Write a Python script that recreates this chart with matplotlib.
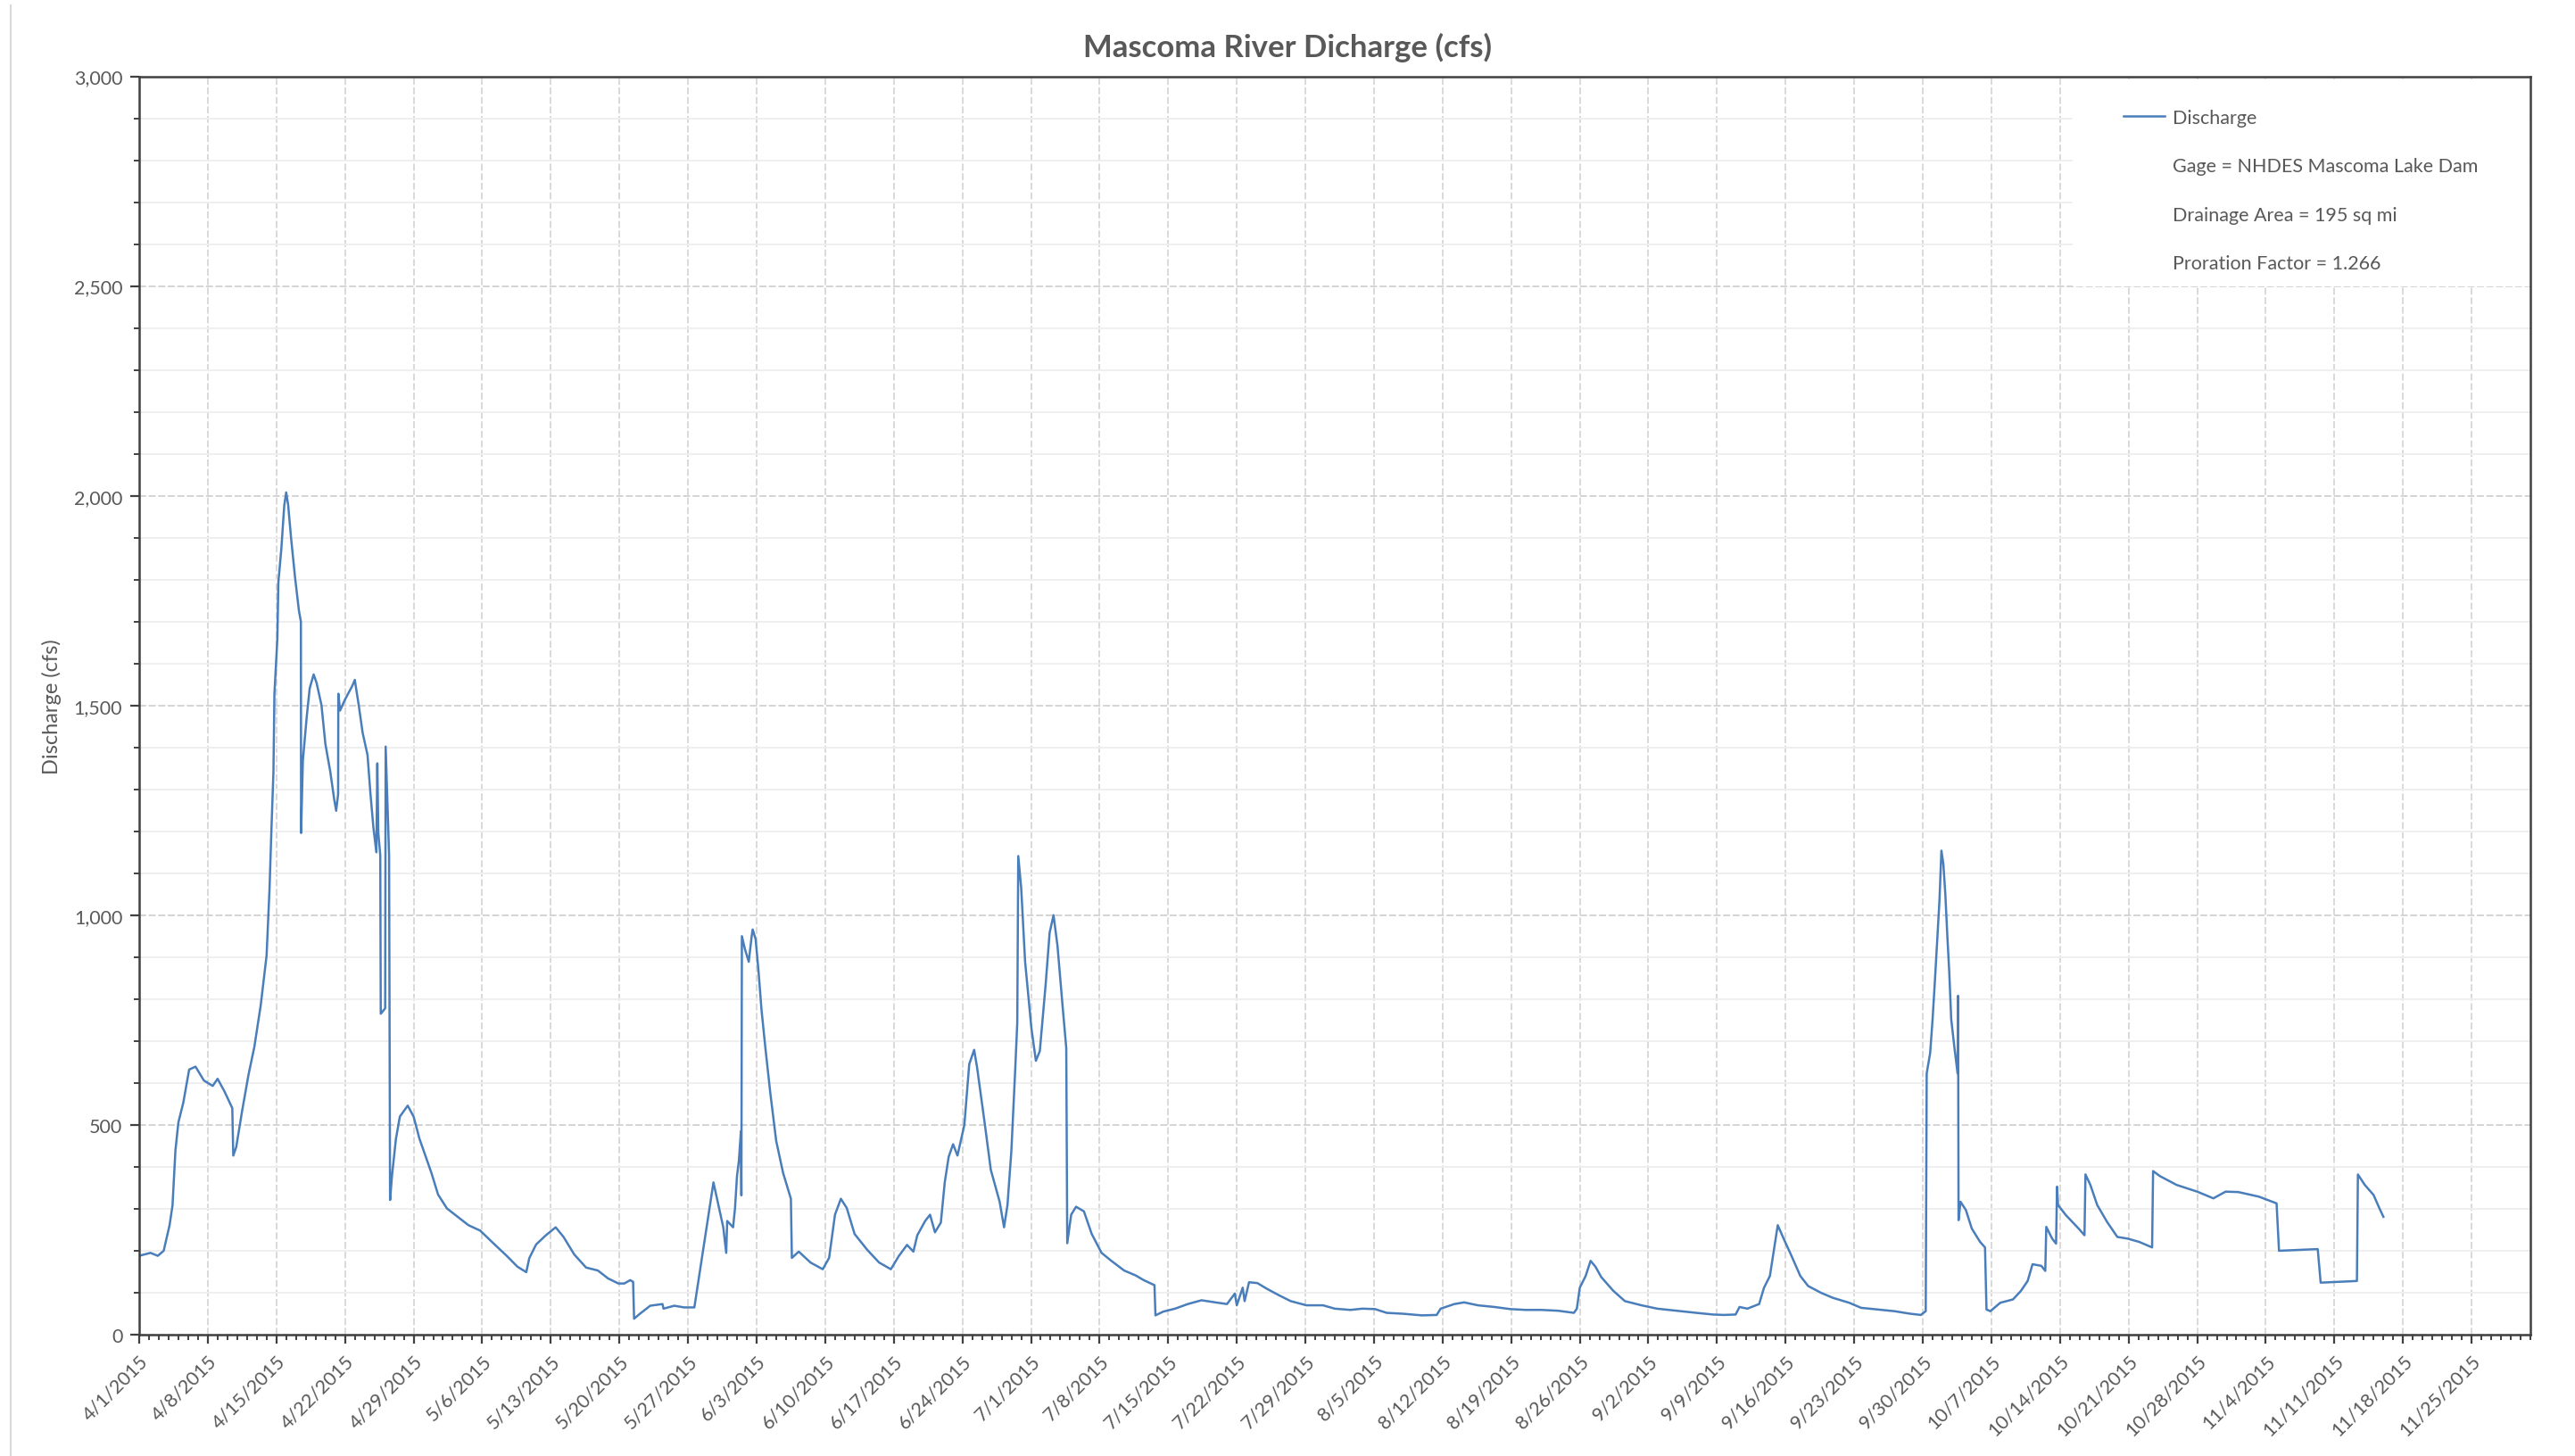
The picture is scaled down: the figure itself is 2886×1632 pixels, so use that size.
import numpy as np
import pandas as pd
import matplotlib
matplotlib.use("Agg")
import matplotlib.pyplot as plt
import matplotlib.dates as mdates
from matplotlib.lines import Line2D
from matplotlib.patches import Rectangle
from matplotlib.ticker import MultipleLocator, FixedLocator, FuncFormatter

plt.rcParams['font.family'] = ['Lato', 'DejaVu Sans']

# discharge readings: days after 4/1/2015 and cfs
spring_days = [0, 1.15, 1.9, 2.5, 3.1, 3.4, 3.7, 4.0, 4.5, 5.1, 5.75, 6.6, 7.5, 8.0, 8.7,
               9.5, 9.6, 9.9, 10.5, 11.15, 11.75, 12.4, 13.0, 13.3, 13.5, 13.7, 13.8, 14.1,
               14.2, 14.5, 14.8, 15.0, 15.2, 15.5, 15.9, 16.3, 16.5, 16.52, 16.7, 17.1, 17.4,
               17.8, 18.1, 18.6, 19.0, 19.5, 19.9, 20.1, 20.3, 20.32, 20.5, 21.0, 21.75, 22.0,
               22.4, 22.8, 23.3, 23.6, 23.9, 24.2, 24.3, 24.4, 24.6, 24.65, 25.1, 25.15, 25.3,
               25.5, 25.6, 25.8, 26.2, 26.6, 27.4, 28.0, 28.6, 29.2, 29.8, 30.5, 31.4, 32.5,
               33.6, 34.8, 36.0, 37.5, 38.6, 39.5, 39.8]
spring_cfs = [188, 195, 188, 200, 261, 308, 440, 506, 553, 632, 639, 606, 593, 610, 580,
              540, 427, 447, 533, 619, 686, 785, 904, 1063, 1209, 1342, 1528, 1660,
              1793, 1872, 1976, 2008, 1978, 1899, 1806, 1726, 1700, 1196, 1368, 1474, 1541,
              1574, 1554, 1501, 1408, 1342, 1276, 1249, 1289, 1528, 1488, 1514, 1547, 1561,
              1501, 1435, 1382, 1289, 1209, 1150, 1362, 1196, 1143, 765, 778, 1402, 1289,
              1143, 321, 380, 467, 520, 546, 520, 467, 427, 387, 334, 301, 281,
              261, 248, 221, 188, 162, 149, 182]

early_summer_days = [40.5, 41.5, 42.5, 43.3, 44.4, 45.6, 46.8, 47.85, 48.9, 49.5, 50.1, 50.4,
                     50.5, 51.1, 52.15, 53.4, 53.5, 54.6, 55.6, 56.65, 58.6, 59.1, 59.6, 59.9,
                     60.0, 60.6, 60.8, 61.0, 61.2, 61.4, 61.45, 61.5, 61.8, 62.2, 62.5, 62.6,
                     62.9, 63.2, 63.5, 63.9, 64.4, 65.0, 65.7, 66.3, 66.5, 66.6, 67.3, 68.5,
                     69.75, 70.4, 71.0, 71.6, 72.2, 73.0, 74.3, 75.5, 76.7, 77.5, 78.35, 79.0,
                     79.4, 80.2, 80.7, 81.2, 81.8, 82.2, 82.6, 83.05, 83.5, 84.2, 84.7, 85.2,
                     85.5, 85.9, 86.3, 86.9, 87.8, 88.25, 88.6, 89.0, 89.4, 89.6, 89.7, 90.0,
                     90.4, 91.05, 91.5, 91.9, 92.5, 92.9, 93.3, 93.7, 94.2, 94.6, 94.7, 95.1,
                     95.6, 96.4, 97.2, 98.2, 99.2, 100.5, 101.7, 102.5, 103.6]
early_summer_cfs = [215, 237, 256, 233, 191, 160, 153, 134, 122, 122, 130, 126,
                    38, 50, 69, 73, 62, 69, 65, 65, 363, 309, 256, 195,
                    271, 256, 302, 378, 416, 485, 332, 950, 920, 889, 950, 966,
                    943, 866, 775, 683, 576, 462, 386, 340, 324, 183, 198, 172,
                    156, 183, 286, 324, 302, 240, 202, 172, 156, 187, 214, 198,
                    237, 271, 286, 244, 267, 363, 424, 454, 427, 500, 645, 679,
                    637, 569, 500, 393, 317, 256, 309, 439, 637, 744, 1141, 1065,
                    889, 729, 653, 676, 836, 958, 1000, 928, 790, 683, 218, 286,
                    305, 294, 240, 195, 176, 153, 141, 130, 118]

late_summer_days = [103.7, 104.5, 105.7, 107.0, 108.4, 109.8, 111.0, 111.8, 112.0, 112.6,
                    112.8, 113.25, 114.1, 115.1, 116.3, 117.5, 119.1, 120.8, 122.0, 123.6,
                    124.8, 126.1, 127.3, 128.9, 130.9, 132.4, 132.8, 134.2, 135.2, 136.6,
                    138.3, 139.9, 141.5, 143.1, 144.8, 146.4, 146.7, 147.0, 147.6, 148.1,
                    148.6, 149.2, 150.4, 151.6, 153.3, 154.9, 156.9, 158.9, 160.6, 161.7,
                    162.9, 163.3, 164.1, 165.3, 165.8, 166.4]
late_summer_cfs = [46, 55, 62, 73, 82, 77, 73, 98, 70, 112,
                   80, 125, 123, 109, 94, 80, 70, 70, 62, 59,
                   62, 61, 52, 50, 46, 47, 62, 73, 77, 70,
                   66, 61, 59, 59, 57, 52, 62, 112, 140, 176,
                   162, 137, 105, 80, 70, 62, 57, 52, 48, 47,
                   48, 66, 62, 73, 112, 140]

fall_days = [167.2, 167.8, 168.6, 169.5, 170.3, 171.6, 172.8, 174.5, 175.7, 177.4, 179.1,
             180.7, 181.8, 182.3, 182.4, 182.75, 183.0, 183.25, 183.5, 183.7, 183.9, 184.1,
             184.3, 184.5, 184.7, 184.9, 185.25, 185.55, 185.6, 185.65, 185.85, 186.4, 187.0,
             187.85, 188.35, 188.5, 188.9, 189.9, 191.2, 192.0, 192.7, 193.2, 194.1, 194.5,
             194.6, 195.2, 195.6, 195.7, 195.8, 196.6, 197.9, 198.5, 198.6, 199.1, 199.8,
             200.8, 201.85, 202.9, 204.1, 205.4, 205.5, 206.2, 207.9, 210.0, 211.65, 212.9,
             214.2, 216.3, 218.1, 218.35, 222.3, 222.6, 226.3, 226.4, 227.1, 228.0, 228.6,
             229.0]
fall_cfs = [261, 229, 188, 140, 116, 100, 88, 76, 64, 60, 56,
            50, 47, 56, 623, 671, 752, 849, 953, 1034, 1154, 1122,
            1050, 953, 865, 752, 680, 623, 808, 273, 317, 297, 253,
            221, 208, 60, 56, 76, 84, 104, 128, 168, 164, 152,
            257, 229, 217, 353, 309, 285, 253, 237, 382, 357, 309,
            269, 233, 229, 221, 208, 390, 378, 357, 341, 325, 341,
            340, 329, 313, 200, 204, 124, 128, 382, 357, 333, 301,
            281]

legend_notes = ["Gage = NHDES Mascoma Lake Dam",
                "Drainage Area = 195 sq mi",
                "Proration Factor = 1.266"]

start = pd.Timestamp("2015-04-01")
end = pd.Timestamp("2015-12-01")
days = np.array(spring_days + early_summer_days + late_summer_days + fall_days)
cfs = np.array(spring_cfs + early_summer_cfs + late_summer_cfs + fall_cfs)
t = start + pd.to_timedelta(days, unit="D")

W, H = 2886, 1633
fig = plt.figure(figsize=(W / 100, H / 100), dpi=100)
ax = fig.add_axes([156 / W, 1 - 1497 / H, (2836 - 156) / W, (1497 - 86.5) / H])

line, = ax.plot(t, cfs, color="#4A7EBB", lw=1.8, label="Discharge")

ax.set_xlim(start, end)
ax.set_ylim(0, 3000)

# weekly labels, daily minor ticks
weeks = pd.date_range(start, end, freq="7D")
ax.xaxis.set_major_locator(FixedLocator(mdates.date2num(weeks)))
ax.xaxis.set_minor_locator(FixedLocator(mdates.date2num(pd.date_range(start, end, freq="D"))))

def fmt_date(x, pos):
    d = mdates.num2date(x)
    return f"{d.month}/{d.day}/{d.year}"

ax.xaxis.set_major_formatter(FuncFormatter(fmt_date))
ax.yaxis.set_major_locator(MultipleLocator(500))
ax.yaxis.set_minor_locator(MultipleLocator(100))
ax.yaxis.set_major_formatter(FuncFormatter(lambda v, p: f"{v:,.0f}"))

ax.grid(True, which="major", axis="x", color="#d9d9d9", lw=1.4, ls=(0, (4, 1.5)))
ax.grid(True, which="major", axis="y", color="#d4d4d4", lw=1.4, ls=(0, (4, 1.5)))
ax.grid(True, which="minor", axis="y", color="#efefef", lw=1.4)
ax.set_axisbelow(True)

for s in ax.spines.values():
    s.set_color("#404040")
    s.set_linewidth(1.8)

ax.tick_params(which="major", length=7.5, width=1.6, color="#404040",
               labelsize=15.5, labelcolor="#595959", pad=6)
ax.tick_params(which="minor", length=4.5, width=1.4, color="#404040")
for lab in ax.get_xticklabels():
    lab.set_rotation(45)
    lab.set_ha("right")
    lab.set_rotation_mode("anchor")

ax.set_ylabel("Discharge (cfs)", fontsize=17, color="#595959", labelpad=10)
fig.text(0.5, 1 - 53 / H, "Mascoma River Dicharge (cfs)", ha="center", va="center",
         fontsize=25, fontweight="bold", color="#595959")

# white legend area covering the gridlines, as in the Excel chart
ax.add_patch(Rectangle((2323 / W, 1 - 322 / H), (2835 - 2323) / W, (322 - 90) / H,
                       transform=fig.transFigure, facecolor="white", edgecolor="none",
                       zorder=1.5))
blank = Line2D([], [], color="none")
leg = ax.legend([line, blank, blank, blank], ["Discharge"] + legend_notes,
                loc="upper left", bbox_to_anchor=(2380 / W, 1 - 123 / H),
                bbox_transform=fig.transFigure, fontsize=15.5, frameon=False,
                handlelength=2.15, handletextpad=0.42, labelspacing=1.6,
                borderpad=0, borderaxespad=0)
for txt in leg.get_texts():
    txt.set_color("#595959")

# thin chart-area border on the left
fig.add_artist(Line2D([12 / W, 12 / W], [0, 1 - 7 / H], color="#d9d9d9", lw=1.5))

fig.savefig("out.png", dpi=100)
